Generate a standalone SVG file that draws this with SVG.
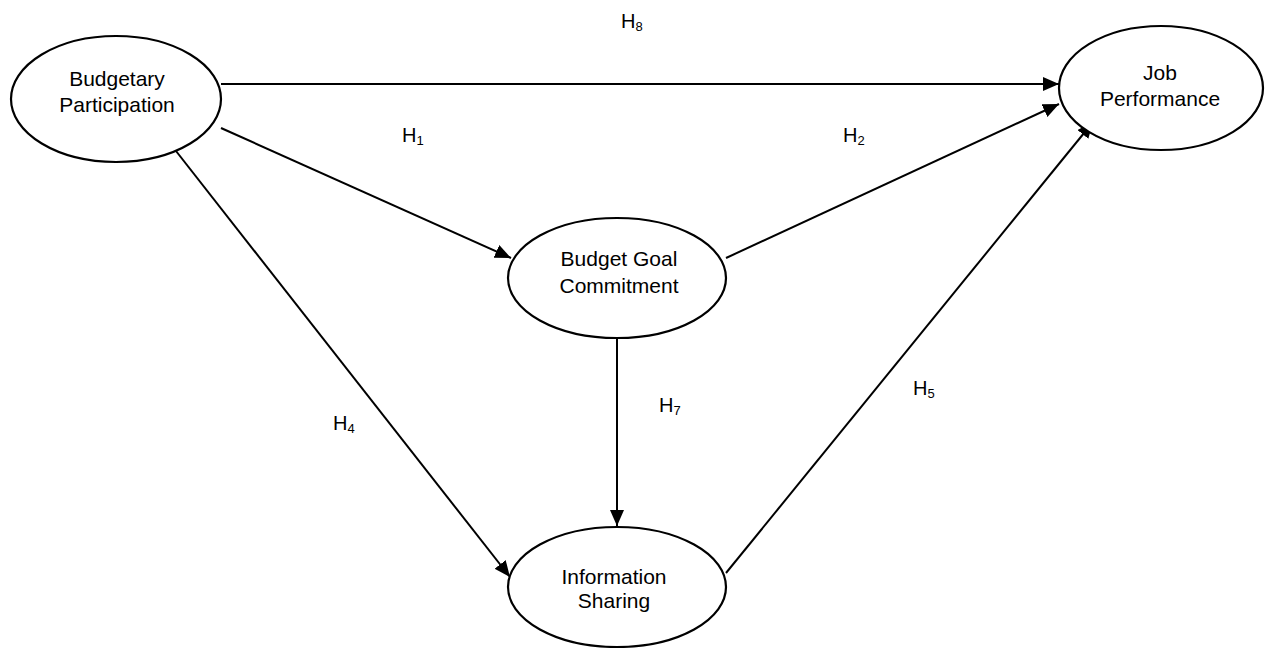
<svg xmlns="http://www.w3.org/2000/svg" width="1267" height="648" viewBox="0 0 1267 648">
<style>
.node{fill:#fff;stroke:#000;stroke-width:2.2}
.lbl{font-family:"Liberation Sans",Arial,sans-serif;font-size:21px;fill:#000;text-anchor:middle}
.h{font-family:"Liberation Sans",Arial,sans-serif;font-size:20px;fill:#000}
.sub{font-size:13px}
.con line{stroke:#000;stroke-width:2;marker-end:url(#arr)}
</style>
<defs>
<marker id="arr" markerUnits="userSpaceOnUse" markerWidth="17" markerHeight="15" refX="16" refY="7" orient="auto">
<path d="M0,0 L16,7 L0,14 z" fill="#000"/>
</marker>
</defs>
<g class="con" id="connectors">
<line x1="221" y1="84" x2="1059" y2="84"/>
<line x1="221" y1="128" x2="511" y2="258"/>
<line x1="176" y1="151" x2="510" y2="577"/>
<line x1="617" y1="339" x2="617" y2="526"/>
<line x1="726" y1="258" x2="1059" y2="104"/>
<line x1="726" y1="573" x2="1093" y2="122"/>
</g>
<g id="labels">
<text class="h" x="621" y="28">H<tspan class="sub" dy="3">8</tspan></text>
<text class="h" x="402" y="142">H<tspan class="sub" dy="3">1</tspan></text>
<text class="h" x="843" y="142">H<tspan class="sub" dy="3">2</tspan></text>
<text class="h" x="333" y="430">H<tspan class="sub" dy="3">4</tspan></text>
<text class="h" x="659" y="412">H<tspan class="sub" dy="3">7</tspan></text>
<text class="h" x="913" y="395">H<tspan class="sub" dy="3">5</tspan></text>
</g>
<g id="budgetary-participation">
<ellipse class="node" cx="116" cy="99" rx="105" ry="63"/>
<text class="lbl" x="117" y="86">Budgetary</text>
<text class="lbl" x="117" y="112">Participation</text>
</g>
<g id="job-performance">
<ellipse class="node" cx="1161" cy="88" rx="102" ry="62"/>
<text class="lbl" x="1160" y="80">Job</text>
<text class="lbl" x="1160" y="106">Performance</text>
</g>
<g id="budget-goal-commitment">
<ellipse class="node" cx="617" cy="278" rx="109" ry="60"/>
<text class="lbl" x="619" y="266">Budget Goal</text>
<text class="lbl" x="619" y="293">Commitment</text>
</g>
<g id="information-sharing">
<ellipse class="node" cx="617" cy="587" rx="109" ry="60"/>
<text class="lbl" x="614" y="584">Information</text>
<text class="lbl" x="614" y="608">Sharing</text>
</g>
</svg>
